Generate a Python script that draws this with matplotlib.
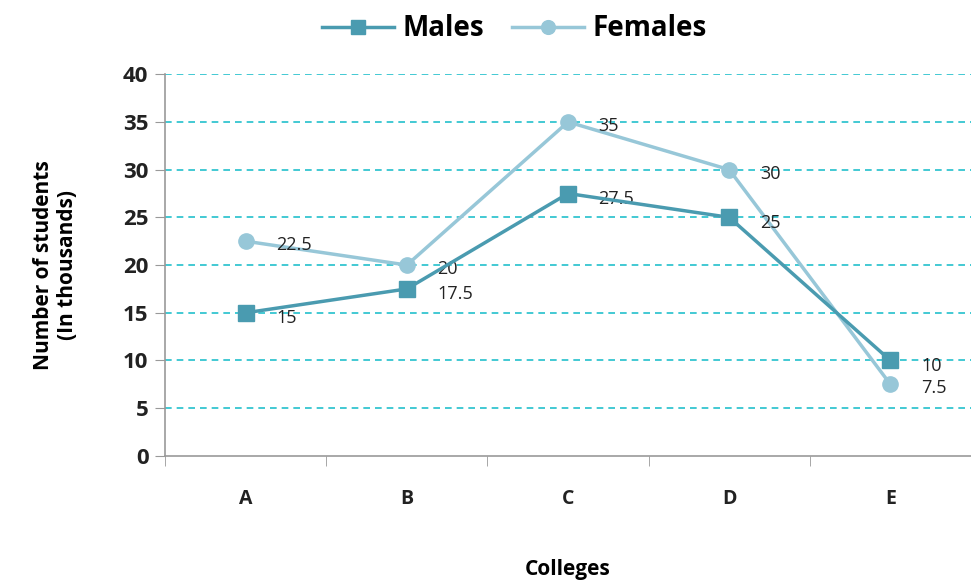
import matplotlib
matplotlib.use("Agg")
import matplotlib.pyplot as plt
import numpy as np

colleges = ["A", "B", "C", "D", "E"]
males = [15, 17.5, 27.5, 25, 10]
females = [22.5, 20, 35, 30, 7.5]
male_labels = ["15", "17.5", "27.5", "25", "10"]
female_labels = ["22.5", "20", "35", "30", "7.5"]
yticks = [0, 5, 10, 15, 20, 25, 30, 35, 40]

plt.rcParams['font.family'] = ['Open Sans', 'DejaVu Sans']

fig = plt.figure(figsize=(9.71, 5.80), dpi=100)
ax = fig.add_axes([0.170, 0.214, 0.830, 0.658])

x = np.arange(len(colleges))
male_c = "#4a9bb0"
female_c = "#97c7d8"

for y in yticks[1:]:
    ax.axhline(y, color='#22c0cc', lw=1.2, ls=(0, (4, 3)), zorder=1)

ax.plot(x, females, color=female_c, lw=2.5, marker='o', ms=11, label='Females', zorder=3)
ax.plot(x, males, color=male_c, lw=2.5, marker='s', ms=11, label='Males', zorder=4)

for xi, v, t in zip(x, males, male_labels):
    ax.annotate(t, (xi, v), xytext=(22, -4), textcoords='offset points',
                ha='left', va='center', fontsize=13, color='#222222')
for xi, v, t in zip(x, females, female_labels):
    ax.annotate(t, (xi, v), xytext=(22, -3), textcoords='offset points',
                ha='left', va='center', fontsize=13, color='#222222')

ax.set_xlim(-0.5, 4.5)
ax.set_ylim(0, 40)
ax.set_yticks(yticks)
ax.set_yticklabels([str(v) for v in yticks], fontsize=16, fontweight='bold', color='#222222')
ax.set_xticks(x)
ax.set_xticklabels(colleges, fontsize=14, fontweight='bold', color='#222222')
ax.set_xticks(np.arange(-0.5, 4.6, 1), minor=True)
ax.tick_params(axis='x', which='major', length=0, pad=24)
ax.tick_params(axis='x', which='minor', length=7, color='#999999')
ax.tick_params(axis='y', length=7, color='#999999', pad=5)

for s in ['top', 'right']:
    ax.spines[s].set_visible(False)
for s in ['left', 'bottom']:
    ax.spines[s].set_color('#999999')
    ax.spines[s].set_linewidth(1.2)

ax.set_xlabel("Colleges", fontsize=15, fontweight='bold', labelpad=36)
ax.set_ylabel("Number of students\n(In thousands)", fontsize=15, fontweight='bold', labelpad=32)

handles, labels = ax.get_legend_handles_labels()
fig.legend(handles[::-1], labels[::-1], loc='center', bbox_to_anchor=(0.53, 0.95), ncol=2,
           frameon=False, prop={'size': 20, 'weight': 'bold'}, handlelength=2.6,
           columnspacing=1.0, handletextpad=0.3, markerscale=0.9)

fig.savefig("out.png", dpi=100)
